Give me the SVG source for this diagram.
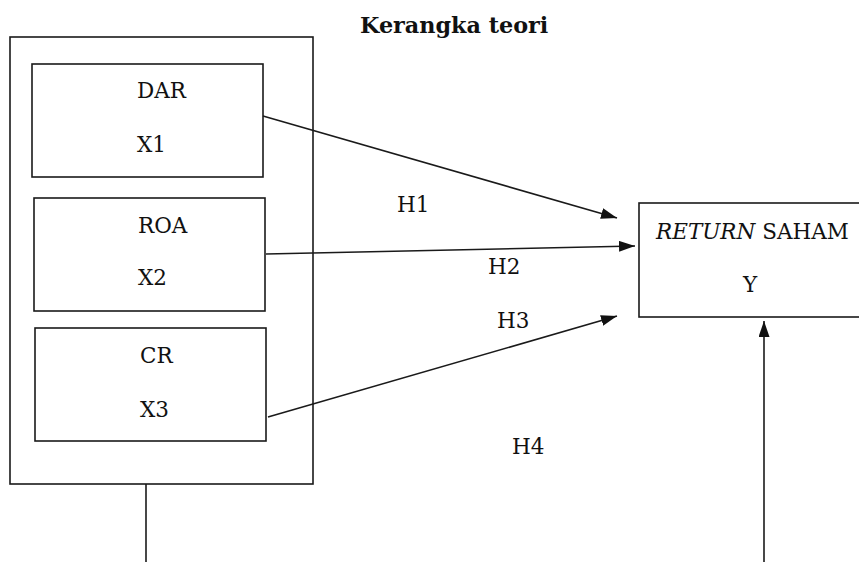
<svg xmlns="http://www.w3.org/2000/svg" width="859" height="562" viewBox="0 0 859 562">
<style>
.box{fill:none;stroke:#1a1a1a;stroke-width:1.6}
.t{font-family:"DejaVu Serif","Liberation Serif",serif;font-size:21.5px;fill:#111}
.title{font-family:"DejaVu Serif","Liberation Serif",serif;font-size:22.3px;font-weight:bold;fill:#111}
.ln{stroke:#1a1a1a;stroke-width:1.6;fill:none}
</style>
<defs>
<marker id="ahb" viewBox="0 0 16 11" refX="16" refY="5.5" markerWidth="16" markerHeight="11" markerUnits="userSpaceOnUse" orient="auto">
<path d="M0,0 L16,5.5 L0,11 Z" fill="#111"/>
</marker>
</defs>
<rect width="859" height="562" fill="#fff"/>
<text class="title" x="360" y="33">Kerangka teori</text>
<g id="outer"><rect class="box" x="10" y="37" width="303" height="447"/></g>
<g id="dar"><rect class="box" x="32" y="64" width="231" height="113"/>
<text class="t" x="137" y="98">DAR</text><text class="t" x="137" y="152">X1</text></g>
<g id="roa"><rect class="box" x="34" y="198" width="231" height="113"/>
<text class="t" x="138" y="233">ROA</text><text class="t" x="138" y="285">X2</text></g>
<g id="cr"><rect class="box" x="35" y="328" width="231" height="113"/>
<text class="t" x="140" y="363">CR</text><text class="t" x="140" y="417">X3</text></g>
<g id="return"><rect class="box" x="639" y="203" width="230" height="114"/>
<text class="t" x="656" y="239"><tspan font-style="italic">RETURN</tspan> SAHAM</text>
<text class="t" x="743" y="292">Y</text></g>
<g id="connectors">
<line class="ln" x1="263" y1="116" x2="617" y2="218" marker-end="url(#ahb)"/>
<line class="ln" x1="266" y1="254" x2="635" y2="246" marker-end="url(#ahb)"/>
<line class="ln" x1="268" y1="417" x2="617" y2="316" marker-end="url(#ahb)"/>
<line class="ln" x1="764" y1="562" x2="764" y2="321" marker-end="url(#ahb)"/>
<line class="ln" x1="146" y1="484" x2="146" y2="562"/>
</g>
<g id="labels">
<text class="t" x="397" y="212">H1</text>
<text class="t" x="488" y="274">H2</text>
<text class="t" x="497" y="328">H3</text>
<text class="t" x="512" y="454">H4</text>
</g>
</svg>
